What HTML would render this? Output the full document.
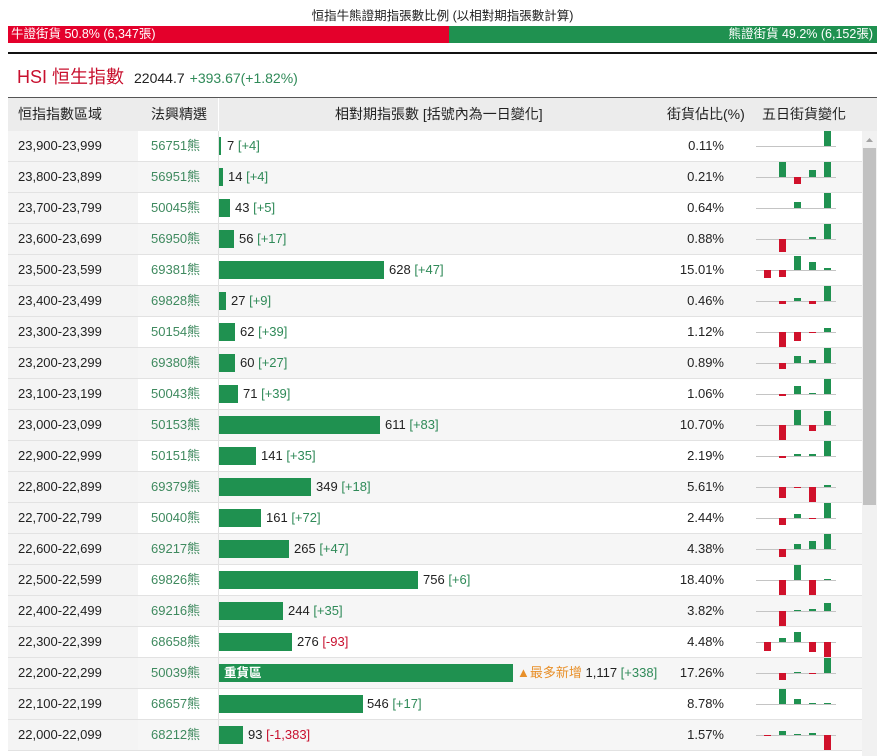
<!DOCTYPE html>
<html><head><meta charset="utf-8"><style>
*{margin:0;padding:0;box-sizing:border-box}
body{width:885px;height:756px;overflow:hidden;background:#fff;font-family:"Liberation Sans","Noto Sans CJK TC",sans-serif;color:#222;position:relative}
.a{position:absolute;white-space:nowrap}
.row{position:absolute;left:8px;width:854px;height:31px;border-bottom:1px solid #e2e2e2;font-size:13px;line-height:30px}
.row.o{background:#fff}.row.e{background:#f6f6f6}
.row>div{line-height:30px}
.c1{position:absolute;left:0;top:0;width:130px;height:30px;background:#f4f4f4;padding:0 0 0 10px}
.c2{position:absolute;left:143px;top:0;color:#3f8a5f}
.sep{position:absolute;left:210px;top:0;width:1px;height:30px;background:#e2e2e2}
.bar{position:absolute;left:211px;top:6px;height:18px;background:#1f9150}
.row>.bar{line-height:18px}
.v{position:absolute;top:0}
.g{color:#2f8a58}.r{color:#c8102e}
.p{position:absolute;right:138px;top:0}
</style></head><body>
<div class="a" style="left:0;width:885px;text-align:center;top:9px;font-size:12.5px;line-height:15px">恒指牛熊證期指張數比例 (以相對期指張數計算)</div>
<div class="a" style="left:8px;top:26px;width:441px;height:17px;background:#e4002b;color:#fff;font-size:12.5px;line-height:17px;padding:0 0 0 3px">牛證街貨 50.8% (6,347張)</div>
<div class="a" style="left:449px;top:26px;width:428px;height:17px;background:#1f9150;color:#fff;font-size:12.5px;line-height:17px;padding:0 4px 0 0;text-align:right">熊證街貨 49.2% (6,152張)</div>
<div class="a" style="left:8px;top:52px;width:869px;height:2px;background:#111"></div>
<div class="a" style="left:17px;top:64px;font-size:18px;line-height:26px;color:#c8102e">HSI 恒生指數 &nbsp;<span style="font-size:14px;color:#222">22044.7</span> <span style="font-size:14px;color:#2f8a58">+393.67(+1.82%)</span></div>
<div class="a" style="left:8px;top:97px;width:869px;height:34px;background:#ececec;border-top:1px solid #555;font-size:14px;line-height:33px">
<span class="a" style="left:10px;top:0">恒指指數區域</span>
<span class="a" style="left:143px;top:0">法興精選</span>
<span class="a" style="left:210px;top:0;width:1px;height:33px;background:#fff"></span>
<span class="a" style="left:327px;top:0">相對期指張數 [括號內為一日變化]</span>
<span class="a" style="left:659px;top:0">街貨佔比(%)</span>
<span class="a" style="left:754px;top:0">五日街貨變化</span>
</div>

<div class="row o" style="top:131px"><div class="c1">23,900-23,999</div><div class="c2">56751熊</div><div class="sep"></div><div class="bar" style="width:2px"></div><div class="v" style="left:219px">7 <span class="g">[+4]</span></div><div class="p">0.11%</div></div>
<div class="row e" style="top:162px"><div class="c1">23,800-23,899</div><div class="c2">56951熊</div><div class="sep"></div><div class="bar" style="width:4px"></div><div class="v" style="left:220px">14 <span class="g">[+4]</span></div><div class="p">0.21%</div></div>
<div class="row o" style="top:193px"><div class="c1">23,700-23,799</div><div class="c2">50045熊</div><div class="sep"></div><div class="bar" style="width:11px"></div><div class="v" style="left:227px">43 <span class="g">[+5]</span></div><div class="p">0.64%</div></div>
<div class="row e" style="top:224px"><div class="c1">23,600-23,699</div><div class="c2">56950熊</div><div class="sep"></div><div class="bar" style="width:15px"></div><div class="v" style="left:231px">56 <span class="g">[+17]</span></div><div class="p">0.88%</div></div>
<div class="row o" style="top:255px"><div class="c1">23,500-23,599</div><div class="c2">69381熊</div><div class="sep"></div><div class="bar" style="width:165px"></div><div class="v" style="left:381px">628 <span class="g">[+47]</span></div><div class="p">15.01%</div></div>
<div class="row e" style="top:286px"><div class="c1">23,400-23,499</div><div class="c2">69828熊</div><div class="sep"></div><div class="bar" style="width:7px"></div><div class="v" style="left:223px">27 <span class="g">[+9]</span></div><div class="p">0.46%</div></div>
<div class="row o" style="top:317px"><div class="c1">23,300-23,399</div><div class="c2">50154熊</div><div class="sep"></div><div class="bar" style="width:16px"></div><div class="v" style="left:232px">62 <span class="g">[+39]</span></div><div class="p">1.12%</div></div>
<div class="row e" style="top:348px"><div class="c1">23,200-23,299</div><div class="c2">69380熊</div><div class="sep"></div><div class="bar" style="width:16px"></div><div class="v" style="left:232px">60 <span class="g">[+27]</span></div><div class="p">0.89%</div></div>
<div class="row o" style="top:379px"><div class="c1">23,100-23,199</div><div class="c2">50043熊</div><div class="sep"></div><div class="bar" style="width:19px"></div><div class="v" style="left:235px">71 <span class="g">[+39]</span></div><div class="p">1.06%</div></div>
<div class="row e" style="top:410px"><div class="c1">23,000-23,099</div><div class="c2">50153熊</div><div class="sep"></div><div class="bar" style="width:161px"></div><div class="v" style="left:377px">611 <span class="g">[+83]</span></div><div class="p">10.70%</div></div>
<div class="row o" style="top:441px"><div class="c1">22,900-22,999</div><div class="c2">50151熊</div><div class="sep"></div><div class="bar" style="width:37px"></div><div class="v" style="left:253px">141 <span class="g">[+35]</span></div><div class="p">2.19%</div></div>
<div class="row e" style="top:472px"><div class="c1">22,800-22,899</div><div class="c2">69379熊</div><div class="sep"></div><div class="bar" style="width:92px"></div><div class="v" style="left:308px">349 <span class="g">[+18]</span></div><div class="p">5.61%</div></div>
<div class="row o" style="top:503px"><div class="c1">22,700-22,799</div><div class="c2">50040熊</div><div class="sep"></div><div class="bar" style="width:42px"></div><div class="v" style="left:258px">161 <span class="g">[+72]</span></div><div class="p">2.44%</div></div>
<div class="row e" style="top:534px"><div class="c1">22,600-22,699</div><div class="c2">69217熊</div><div class="sep"></div><div class="bar" style="width:70px"></div><div class="v" style="left:286px">265 <span class="g">[+47]</span></div><div class="p">4.38%</div></div>
<div class="row o" style="top:565px"><div class="c1">22,500-22,599</div><div class="c2">69826熊</div><div class="sep"></div><div class="bar" style="width:199px"></div><div class="v" style="left:415px">756 <span class="g">[+6]</span></div><div class="p">18.40%</div></div>
<div class="row e" style="top:596px"><div class="c1">22,400-22,499</div><div class="c2">69216熊</div><div class="sep"></div><div class="bar" style="width:64px"></div><div class="v" style="left:280px">244 <span class="g">[+35]</span></div><div class="p">3.82%</div></div>
<div class="row o" style="top:627px"><div class="c1">22,300-22,399</div><div class="c2">68658熊</div><div class="sep"></div><div class="bar" style="width:73px"></div><div class="v" style="left:289px">276 <span class="r">[-93]</span></div><div class="p">4.48%</div></div>
<div class="row e" style="top:658px"><div class="c1">22,200-22,299</div><div class="c2">50039熊</div><div class="sep"></div><div class="bar" style="width:294px;color:#fff;font-weight:bold;font-size:12.5px;padding:0 0 0 5px">重貨區</div><div class="v" style="left:509px"><span style="color:#e8902a">▲最多新增</span> 1,117 <span class="g">[+338]</span></div><div class="p">17.26%</div></div>
<div class="row o" style="top:689px"><div class="c1">22,100-22,199</div><div class="c2">68657熊</div><div class="sep"></div><div class="bar" style="width:144px"></div><div class="v" style="left:359px">546 <span class="g">[+17]</span></div><div class="p">8.78%</div></div>
<div class="row e" style="top:720px"><div class="c1">22,000-22,099</div><div class="c2">68212熊</div><div class="sep"></div><div class="bar" style="width:24px"></div><div class="v" style="left:240px">93 <span class="r">[-1,383]</span></div><div class="p">1.57%</div></div>

<svg class="a" style="left:0;top:0" width="885" height="756">
<g stroke="#c4c4c4" stroke-width="1">
<line x1="756" x2="836" y1="146.5" y2="146.5"/><line x1="756" x2="836" y1="177.5" y2="177.5"/><line x1="756" x2="836" y1="208.5" y2="208.5"/><line x1="756" x2="836" y1="239.5" y2="239.5"/><line x1="756" x2="836" y1="270.5" y2="270.5"/><line x1="756" x2="836" y1="301.5" y2="301.5"/><line x1="756" x2="836" y1="332.5" y2="332.5"/><line x1="756" x2="836" y1="363.5" y2="363.5"/><line x1="756" x2="836" y1="394.5" y2="394.5"/><line x1="756" x2="836" y1="425.5" y2="425.5"/><line x1="756" x2="836" y1="456.5" y2="456.5"/><line x1="756" x2="836" y1="487.5" y2="487.5"/><line x1="756" x2="836" y1="518.5" y2="518.5"/><line x1="756" x2="836" y1="549.5" y2="549.5"/><line x1="756" x2="836" y1="580.5" y2="580.5"/><line x1="756" x2="836" y1="611.5" y2="611.5"/><line x1="756" x2="836" y1="642.5" y2="642.5"/><line x1="756" x2="836" y1="673.5" y2="673.5"/><line x1="756" x2="836" y1="704.5" y2="704.5"/><line x1="756" x2="836" y1="735.5" y2="735.5"/>
</g>
<g fill="#1f9150">
<rect x="824" y="131" width="7" height="15"/>
<rect x="779" y="162" width="7" height="15"/><rect x="809" y="170" width="7" height="7"/><rect x="824" y="162" width="7" height="15"/>
<rect x="794" y="202" width="7" height="6"/><rect x="824" y="193" width="7" height="15"/>
<rect x="809" y="237" width="7" height="2"/><rect x="824" y="224" width="7" height="15"/>
<rect x="794" y="256" width="7" height="14"/><rect x="809" y="262" width="7" height="8"/><rect x="824" y="268" width="7" height="2"/>
<rect x="794" y="298" width="7" height="3"/><rect x="824" y="286" width="7" height="15"/>
<rect x="824" y="328" width="7" height="4"/>
<rect x="794" y="356" width="7" height="7"/><rect x="809" y="360" width="7" height="3"/><rect x="824" y="348" width="7" height="15"/>
<rect x="794" y="386" width="7" height="8"/><rect x="809" y="393" width="7" height="1"/><rect x="824" y="379" width="7" height="15"/>
<rect x="794" y="410" width="7" height="15"/><rect x="824" y="411" width="7" height="14"/>
<rect x="794" y="454" width="7" height="2"/><rect x="809" y="454" width="7" height="2"/><rect x="824" y="441" width="7" height="15"/>
<rect x="824" y="485" width="7" height="2"/>
<rect x="794" y="514" width="7" height="4"/><rect x="824" y="503" width="7" height="15"/>
<rect x="794" y="544" width="7" height="5"/><rect x="809" y="541" width="7" height="8"/><rect x="824" y="534" width="7" height="15"/>
<rect x="794" y="565" width="7" height="15"/><rect x="824" y="579" width="7" height="1"/>
<rect x="794" y="610" width="7" height="1"/><rect x="809" y="609" width="7" height="2"/><rect x="824" y="603" width="7" height="8"/>
<rect x="779" y="638" width="7" height="4"/><rect x="794" y="632" width="7" height="10"/>
<rect x="794" y="672" width="7" height="1"/><rect x="824" y="658" width="7" height="15"/>
<rect x="779" y="689" width="7" height="15"/><rect x="794" y="699" width="7" height="5"/><rect x="809" y="703" width="7" height="1"/><rect x="824" y="703" width="7" height="1"/>
<rect x="779" y="731" width="7" height="4"/><rect x="794" y="734" width="7" height="1"/><rect x="809" y="733" width="7" height="2"/>
</g>
<g fill="#d0112b">
<rect x="794" y="177" width="7" height="7"/>
<rect x="779" y="239" width="7" height="13"/>
<rect x="764" y="270" width="7" height="8"/><rect x="779" y="270" width="7" height="7"/>
<rect x="779" y="301" width="7" height="3"/><rect x="809" y="301" width="7" height="3"/>
<rect x="779" y="332" width="7" height="15"/><rect x="794" y="332" width="7" height="9"/><rect x="809" y="332" width="7" height="1"/>
<rect x="779" y="363" width="7" height="6"/>
<rect x="779" y="394" width="7" height="2"/>
<rect x="779" y="425" width="7" height="15"/><rect x="809" y="425" width="7" height="6"/>
<rect x="779" y="456" width="7" height="2"/>
<rect x="779" y="487" width="7" height="11"/><rect x="794" y="487" width="7" height="1"/><rect x="809" y="487" width="7" height="15"/>
<rect x="779" y="518" width="7" height="7"/><rect x="809" y="518" width="7" height="1"/>
<rect x="779" y="549" width="7" height="8"/>
<rect x="779" y="580" width="7" height="15"/><rect x="809" y="580" width="7" height="15"/>
<rect x="779" y="611" width="7" height="15"/>
<rect x="764" y="642" width="7" height="9"/><rect x="809" y="642" width="7" height="10"/><rect x="824" y="642" width="7" height="15"/>
<rect x="779" y="673" width="7" height="7"/><rect x="809" y="673" width="7" height="1"/>
<rect x="764" y="735" width="7" height="1"/><rect x="824" y="735" width="7" height="15"/>
</g>
<rect x="862" y="131" width="15" height="625" fill="#f1f1f1"/>
<rect x="863" y="148" width="13" height="357" fill="#c1c1c1"/>
<path d="M866 142 L869.5 138 L873 142 Z" fill="#a3a3a3"/>
</svg>
</body></html>
